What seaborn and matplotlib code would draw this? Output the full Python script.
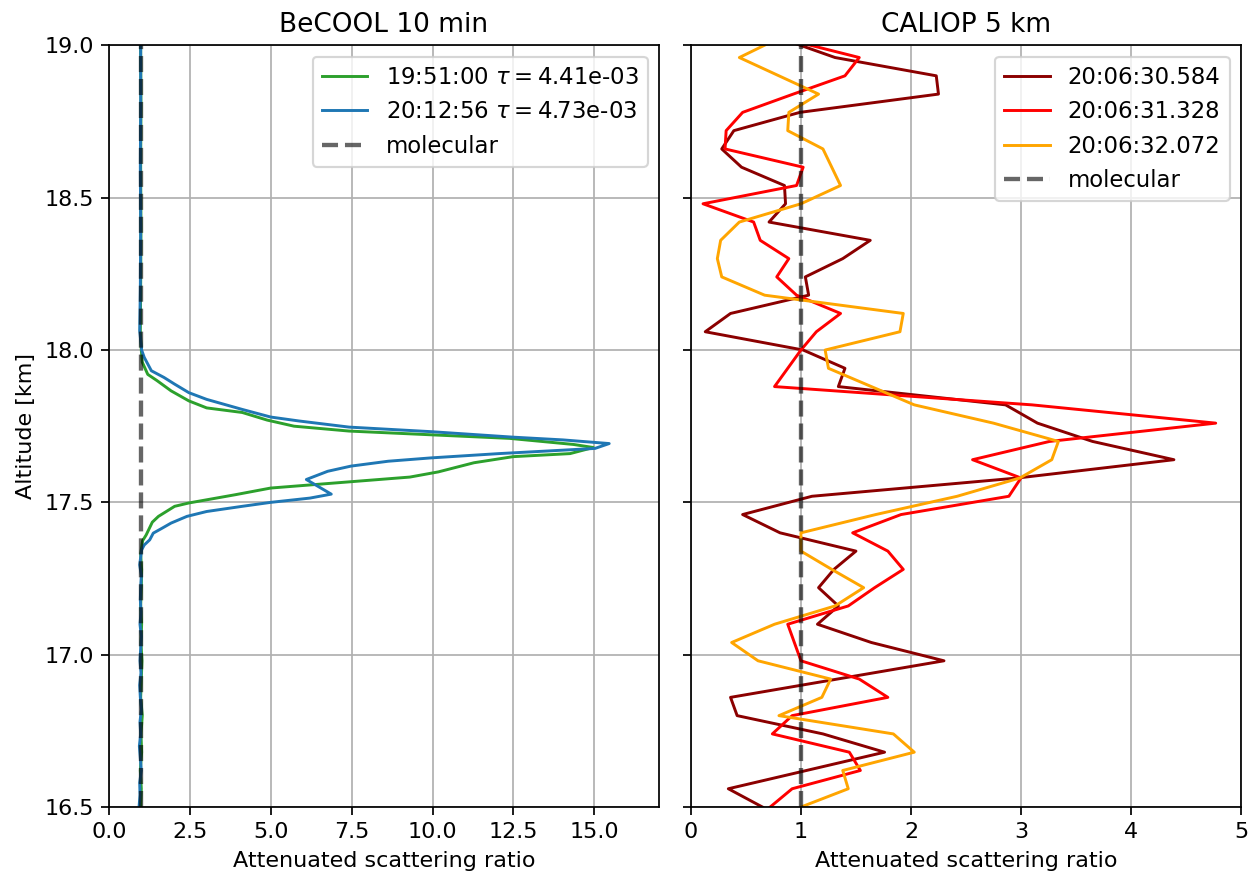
import matplotlib
matplotlib.use("Agg")
import matplotlib.pyplot as plt
import seaborn as sns
import pandas as pd

# ---------------- BeCOOL profiles ----------------
green_label = "19:51:00 $\\tau=$4.41e-03"
green_alt = [16.50, 16.56, 16.62, 16.68, 16.74, 16.80, 16.86, 16.92, 16.98, 17.04,
             17.10, 17.16, 17.22, 17.28, 17.33, 17.374, 17.393, 17.435, 17.454, 17.487,
             17.498, 17.525, 17.547, 17.583, 17.60, 17.63, 17.65, 17.66, 17.68, 17.69,
             17.71, 17.734, 17.75, 17.77, 17.795, 17.81, 17.833, 17.866, 17.90, 17.92,
             17.96, 18.00, 18.06, 18.20, 18.40, 18.60, 18.80, 19.00]
green_val = [0.98, 1.00, 0.97, 1.01, 0.99, 1.03, 0.98, 1.00, 1.02, 0.99,
             1.01, 0.98, 1.00, 1.01, 0.98, 1.04, 1.15, 1.34, 1.53, 2.03,
             2.47, 3.90, 5.00, 9.30, 10.18, 11.28, 12.49, 14.25, 14.97, 14.36,
             12.38, 7.42, 5.72, 4.89, 4.12, 3.02, 2.47, 1.92, 1.48, 1.20,
             1.03, 1.00, 0.97, 0.98, 0.99, 0.98, 0.99, 0.98]

blue_label = "20:12:56 $\\tau=$4.73e-03"
blue_alt = [16.50, 16.54, 16.58, 16.62, 16.66, 16.70, 16.74, 16.78, 16.82, 16.86,
            16.90, 16.94, 16.98, 17.02, 17.06, 17.10, 17.14, 17.18, 17.22, 17.26,
            17.295, 17.344, 17.36, 17.377, 17.399, 17.415, 17.432, 17.454, 17.47, 17.487,
            17.50, 17.514, 17.527, 17.575, 17.602, 17.619, 17.635, 17.646, 17.66, 17.677,
            17.693, 17.705, 17.714, 17.732, 17.747, 17.767, 17.78, 17.805, 17.838, 17.86,
            17.888, 17.91, 17.932, 17.976, 18.00, 18.064, 18.20, 18.40, 18.60, 18.80, 19.00]
blue_val = [0.93, 0.96, 0.95, 1.00, 0.97, 0.94, 0.98, 0.96, 1.00, 0.97,
            0.95, 0.99, 0.96, 0.98, 1.00, 0.96, 0.99, 0.97, 0.98, 1.00,
            0.95, 1.01, 1.09, 1.26, 1.37, 1.64, 1.92, 2.41, 3.02, 4.12,
            5.00, 6.21, 6.87, 6.10, 6.76, 7.48, 8.63, 9.96, 12.05, 15.02,
            15.46, 14.03, 12.49, 9.96, 7.42, 5.88, 5.00, 4.12, 3.02, 2.47,
            2.03, 1.70, 1.31, 1.09, 1.01, 0.95, 0.97, 0.98, 0.97, 0.98, 0.98]

# ---------------- CALIOP profiles ----------------
caliop_alt = [16.50, 16.56, 16.62, 16.68, 16.74, 16.80, 16.86, 16.92, 16.98, 17.04,
              17.10, 17.16, 17.22, 17.28, 17.34, 17.40, 17.46, 17.52, 17.58, 17.64,
              17.70, 17.76, 17.82, 17.88, 17.94, 18.00, 18.06, 18.12, 18.18, 18.24,
              18.30, 18.36, 18.42, 18.48, 18.54, 18.60, 18.66, 18.72, 18.78, 18.84,
              18.90, 18.96, 19.02]
caliop_labels = ["20:06:30.584", "20:06:31.328", "20:06:32.072"]
caliop_a = [0.65, 0.34, 1.05, 1.76, 1.20, 0.42, 0.36, 1.33, 2.30, 1.64,
            1.15, 1.34, 1.16, 1.30, 1.50, 0.81, 0.47, 1.10, 2.97, 4.39,
            3.65, 3.15, 2.86, 1.34, 1.40, 1.02, 0.13, 0.36, 1.07, 1.04,
            1.38, 1.63, 0.71, 0.86, 0.85, 0.46, 0.28, 0.39, 0.99, 2.25,
            2.23, 1.31, 0.84]
caliop_b = [0.72, 0.92, 1.54, 1.44, 0.74, 0.92, 1.79, 1.53, 1.00, 0.94,
            0.88, 1.43, 1.67, 1.93, 1.79, 1.47, 1.91, 2.89, 3.00, 2.56,
            3.26, 4.77, 3.10, 0.76, 0.88, 1.00, 1.14, 1.36, 0.96, 0.78,
            0.89, 0.63, 0.57, 0.11, 0.96, 1.02, 0.31, 0.32, 0.47, 0.93,
            1.40, 1.53, 0.87]
caliop_c = [1.00, 1.43, 1.38, 2.03, 1.84, 0.80, 1.19, 1.27, 0.61, 0.37,
            0.76, 1.31, 1.57, 1.28, 1.00, 1.00, 1.68, 2.42, 2.99, 3.28,
            3.34, 2.75, 2.03, 1.64, 1.25, 1.22, 1.90, 1.93, 0.67, 0.28,
            0.24, 0.27, 0.44, 1.00, 1.36, 1.28, 1.20, 0.88, 0.89, 1.16,
            0.80, 0.44, 0.78]
caliop_colors = ["darkred", "red", "orange"]

molecular_val = 1.0
alt_range = [16.5, 19.0]

fig, (ax1, ax2) = plt.subplots(1, 2, sharey=True, figsize=(8, 872 / 156), dpi=156)
fig.subplots_adjust(left=0.0873, right=0.9944, top=0.948, bottom=0.0745, wspace=0.058)

for ax in (ax1, ax2):
    ax.grid(True, color="#b0b0b0", linewidth=0.8)
    ax.set_axisbelow(True)

LW = 1.35

# left panel
sns.lineplot(x=green_val, y=green_alt, sort=False, estimator=None, color="tab:green",
             label=green_label, ax=ax1, lw=LW)
sns.lineplot(x=blue_val, y=blue_alt, sort=False, estimator=None, color="tab:blue",
             label=blue_label, ax=ax1, lw=LW)
ax1.plot([molecular_val, molecular_val], alt_range, ls="--", color="k", alpha=0.6,
         lw=2, label="molecular")
ax1.set_xlim(0, 17)
ax1.set_ylim(*alt_range)
ax1.set_title("BeCOOL 10 min", fontsize=12.2)
ax1.set_xlabel("Attenuated scattering ratio", fontsize=10.3)
ax1.set_ylabel("Altitude [km]", fontsize=10.3)
ax1.legend(loc="upper right", fontsize=10.5)

# right panel
for vals, lab, col in zip([caliop_a, caliop_b, caliop_c], caliop_labels, caliop_colors):
    sns.lineplot(x=vals, y=caliop_alt, sort=False, estimator=None, color=col,
                 label=lab, ax=ax2, lw=LW)
ax2.plot([molecular_val, molecular_val], alt_range, ls="--", color="k", alpha=0.6,
         lw=2, label="molecular")
ax2.set_xlim(0, 5)
ax2.set_ylim(*alt_range)
ax2.set_title("CALIOP 5 km", fontsize=12.2)
ax2.set_xlabel("Attenuated scattering ratio", fontsize=10.3)
ax2.set_ylabel("")
ax2.legend(loc="upper right", fontsize=10.5)

for ax in (ax1, ax2):
    ax.tick_params(labelsize=10.3)

fig.savefig("out.png", dpi=156)
